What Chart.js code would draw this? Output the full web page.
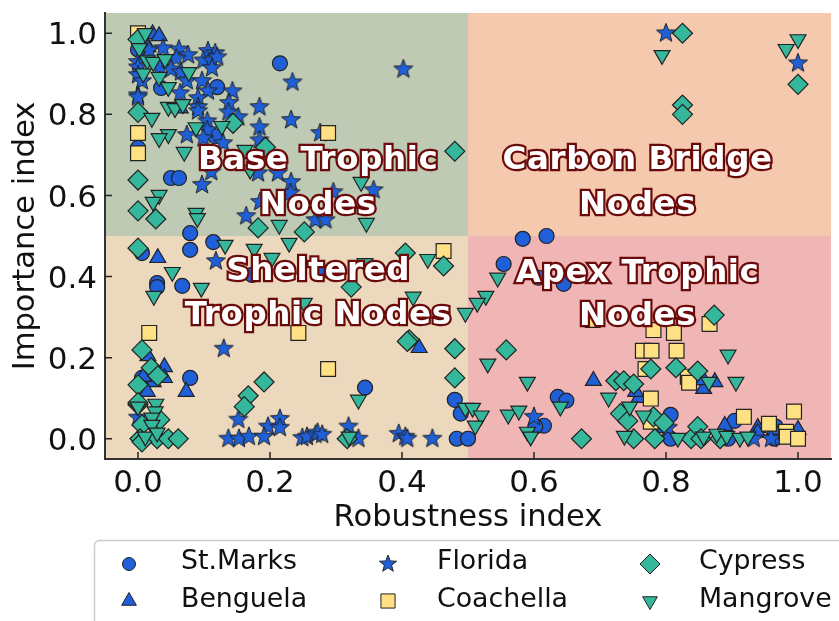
<!DOCTYPE html>
<html>
<head>
<meta charset="utf-8">
<title>Robustness and importance</title>
<script src="https://cdn.jsdelivr.net/npm/chart.js@4/dist/chart.umd.min.js"></script>
<style>
    html, body { margin: 0; padding: 0; background: #fff; overflow: hidden; }
    canvas { display: block; }
</style>
</head>
<body>
<canvas id="myChart" width="839" height="621"></canvas>
<script>
const xTicks = [0, 0.2, 0.4, 0.6, 0.8, 1];
const yTicks = [0, 0.2, 0.4, 0.6, 0.8, 1];

const stMarks = [[.215,.926],[.12,.867],[.035,.865],[0,.96],[.05,.643],[.062,.643],[0,.717],[.079,.507],[.117,.746],
    [.006,.458],[.079,.466],[.114,.485],[.029,.384],[.029,.374],[.067,.377],[.173,.404],[.079,.15],[.344,.126],[.006,.15],
    [.48,.096],[.489,.062],[.483,0],[.5,0],[.583,.493],[.619,.5],[.554,.431],[.607,.397],[.645,.382],[.636,.103],[.649,.094],
    [.615,.032],[.602,.03],[.807,.059],[.807,0],[.904,.044],[.894,0],[.964,0],[.966,.03]];

const benguela = [[.022,.998],[.032,.993],[.015,.966],[.064,.815],[.03,.446],[.015,.204],[.04,.177],[.04,.15],[.023,.14],
    [.014,.116],[.008,.153],[.073,.116],[.426,.224],[.759,.101],[.754,.116],[.857,.123],[.857,.145],[.874,.14],[.69,.143],
    [.889,.032],[.939,.027],[.939,.015],[1,.022],[.964,.022],[.797,.027]];

const florida = [[.062,.96],[.076,.946],[.106,.956],[.117,.951],[.099,.933],[.112,.933],[.12,.941],[.112,.914],[.038,.963],
    [.017,.958],[.058,.938],[0,.929],[0,.916],[.033,.916],[.05,.911],[.065,.904],[0,.897],[.006,.882],[.074,.882],[.097,.882],
    [.064,.852],[.106,.857],[.143,.857],[0,.847],[0,.842],[.091,.84],[.138,.828],[.091,.818],[.091,.808],[.137,.805],[.184,.818],
    [.152,.793],[.105,.783],[.232,.786],[.234,.879],[.402,.911],[.184,.768],[.105,.761],[.074,.749],[.099,.741],[.129,.729],
    [.184,.736],[.276,.754],[.111,.658],[.182,.655],[.212,.655],[.232,.633],[.097,.626],[.231,.606],[.296,.608],[.357,.613],
    [.185,.584],[.164,.549],[.269,.539],[.284,.539],[.118,.438],[.276,.416],[.13,.222],[.152,.047],[.137,0],[.153,0],[.168,.005],
    [.197,.03],[.215,.049],[.215,.027],[.191,.005],[.249,.002],[.256,.005],[.269,.01],[.272,.015],[.279,.01],[.319,.03],[.334,0],
    [.395,.012],[.405,.005],[.408,0],[.446,0],[0,.052],[.6,.054],[.933,0],[.959,0],[.803,.027],[.8,1],[1,.926]];

const coachella = [[0,1],[0,.754],[0,.704],[.288,.754],[.017,.261],[.243,.261],[.288,.172],[.463,.463],[.689,.293],[.781,.268],
    [.812,.261],[.866,.283],[.765,.217],[.778,.217],[.816,.217],[.769,.172],[.833,.153],[.835,.138],[.777,.099],[.777,.042],
    [.918,.054],[.956,.037],[.994,.067],[.982,.017],[.983,.005],[1,0]];

const cypress = [[0,.985],[0,.805],[.144,.778],[.48,.709],[0,.638],[0,.562],[.027,.542],[.193,.719],[.182,.52],[.252,.51],
    [0,.47],[.405,.458],[.463,.426],[.323,.374],[.411,.244],[.408,.24],[.48,.222],[.48,.15],[.006,.219],[.02,.175],[.03,.155],
    [0,.133],[.191,.14],[.167,.106],[.161,.079],[0,.084],[0,.089],[.006,.034],[.033,.047],[.003,0],[.029,0],[.046,0],[.061,0],
    [.006,-.008],[.317,0],[.558,.219],[.672,0],[.724,.143],[.736,.143],[.751,.135],[.777,.172],[.815,.175],[.848,.167],[.873,.305],
    [.731,.062],[.742,.044],[.781,.054],[.797,.039],[.783,0],[.751,0],[.838,0],[.848,.03],[.853,0],[.882,0],[.825,1],[.825,.823],
    [.825,.8],[1,.874]];

const mangrove = [[.011,1],[.002,.963],[.014,.933],[.023,.929],[.041,.936],[.008,.901],[.032,.892],[.077,.904],[.046,.867],
    [.046,.818],[.056,.815],[.068,.825],[.021,.791],[.088,.768],[.127,.771],[.046,.751],[.032,.741],[.07,.707],[.162,.712],[.17,.663],
    [.338,.633],[.032,.601],[.023,.584],[.088,.557],[.09,.544],[.214,.527],[.346,.532],[.132,.478],[.176,.468],[.229,.483],[.203,.446],
    [.344,.433],[.439,.443],[.052,.411],[.096,.372],[.024,.352],[.252,.335],[.417,.35],[.496,.31],[.545,.397],[.527,.352],[.514,.335],
    [.53,.185],[.59,.14],[.64,.079],[.334,.096],[.496,.076],[.507,.076],[.52,.057],[.511,.032],[.561,.059],[.577,.069],[.59,.017],
    [.595,.005],[.32,.005],[.713,.101],[.745,.079],[.766,.057],[.894,.207],[.906,.14],[.865,.14],[.737,.007],[.818,.002],[.857,.005],
    [.877,.012],[.892,.007],[.912,.002],[.924,.005],[.794,.946],[1,.985],[.982,.961],[0,.079],[.027,.086],[.026,.067],[.021,.052],
    [.021,.034],[.011,.005],[.029,.015]];

const azul = "#1f5fd8";
const verde = "#35b79b";
const amarelo = "#ffe082";
const contorno = "#222222";

function criarEstrela(raio) {
    const tela = document.createElement("canvas");
    const lado = Math.ceil(raio * 2 + 4);
    tela.width = lado;
    tela.height = lado;
    const ctx = tela.getContext("2d");
    ctx.beginPath();
    for (let i = 0; i < 10; i++) {
        const r = i % 2 ? raio * 0.42 : raio;
        const ang = -Math.PI / 2 + i * Math.PI / 5;
        ctx.lineTo(lado / 2 + r * Math.cos(ang), lado / 2 + r * Math.sin(ang));
    }
    ctx.closePath();
    ctx.fillStyle = azul;
    ctx.fill();
    ctx.lineWidth = 1;
    ctx.strokeStyle = contorno;
    ctx.lineJoin = "miter";
    ctx.stroke();
    return tela;
}

const series = [
    { label: "St.Marks", pontos: stMarks, estilo: "circle", cor: azul, raio: 7.5, raioLegenda: 6.5, rotacao: 0 },
    { label: "Benguela", pontos: benguela, estilo: "triangle", cor: azul, raio: 9.2, raioLegenda: 8.5, rotacao: 0 },
    { label: "Florida", pontos: florida, estilo: criarEstrela(10), cor: azul, raio: 10, raioLegenda: 8, rotacao: 0, estiloLegenda: criarEstrela(9) },
    { label: "Coachella", pontos: coachella, estilo: "rect", cor: amarelo, raio: 10.5, raioLegenda: 10, rotacao: 0 },
    { label: "Cypress", pontos: cypress, estilo: "rectRot", cor: verde, raio: 10, raioLegenda: 10, rotacao: 0 },
    { label: "Mangrove", pontos: mangrove, estilo: "triangle", cor: verde, raio: 9.2, raioLegenda: 8.5, rotacao: 180 }
];

const quadrantes = [
    { x0: -0.05, x1: 0.5, y0: 0.5, y1: 1.05, cor: "#bfcab4" },
    { x0: 0.5, x1: 1.05, y0: 0.5, y1: 1.05, cor: "#f5c9ae" },
    { x0: -0.05, x1: 0.5, y0: -0.05, y1: 0.5, cor: "#ebd8bd" },
    { x0: 0.5, x1: 1.05, y0: -0.05, y1: 0.5, cor: "#f0b6b6" }
];

const rotulos = [
    { texto: "Base Trophic", x: 0.273, y: 0.686 },
    { texto: "Nodes", x: 0.273, y: 0.576 },
    { texto: "Carbon Bridge", x: 0.757, y: 0.686 },
    { texto: "Nodes", x: 0.757, y: 0.576 },
    { texto: "Sheltered", x: 0.273, y: 0.413 },
    { texto: "Trophic Nodes", x: 0.273, y: 0.303 },
    { texto: "Apex Trophic", x: 0.757, y: 0.408 },
    { texto: "Nodes", x: 0.757, y: 0.302 }
];

const fundoPlugin = {
    id: "fundo",
    // o layout deixa a margem direita maior que o padding pedido
    afterLayout(chart) {
        const eixoX = chart.scales.x;
        eixoX.right = 831;
        eixoX.width = eixoX.right - eixoX.left;
        eixoX.configure();
        chart.chartArea.right = eixoX.right;
        chart.chartArea.width = eixoX.width;
    },
    beforeDraw(chart) {
        const { ctx, scales: { x, y } } = chart;
        ctx.save();
        quadrantes.forEach(q => {
            ctx.fillStyle = q.cor;
            ctx.fillRect(x.getPixelForValue(q.x0), y.getPixelForValue(q.y1),
                x.getPixelForValue(q.x1) - x.getPixelForValue(q.x0),
                y.getPixelForValue(q.y0) - y.getPixelForValue(q.y1));
        });
        ctx.restore();
    },
    beforeDatasetsDraw(chart) {
        const { ctx, scales: { x, y }, chartArea } = chart;
        ctx.save();
        ctx.strokeStyle = "#222";
        ctx.lineWidth = 1.5;
        ctx.beginPath();
        xTicks.forEach(v => {
            ctx.moveTo(x.getPixelForValue(v), chartArea.bottom);
            ctx.lineTo(x.getPixelForValue(v), chartArea.bottom - 7);
        });
        yTicks.forEach(v => {
            ctx.moveTo(chartArea.left, y.getPixelForValue(v));
            ctx.lineTo(chartArea.left + 7, y.getPixelForValue(v));
        });
        ctx.stroke();
        ctx.restore();
    }
};

const rotulosPlugin = {
    id: "rotulos",
    afterDatasetsDraw(chart) {
        const { ctx, scales: { x, y } } = chart;
        ctx.save();
        ctx.font = "bold 32.5px 'DejaVu Sans'";
        ctx.textAlign = "center";
        ctx.textBaseline = "middle";
        ctx.lineJoin = "miter";
        ctx.letterSpacing = "0.6px";
        rotulos.forEach(r => {
            ctx.lineWidth = 4.5;
            ctx.strokeStyle = "#6b0a0a";
            ctx.strokeText(r.texto, x.getPixelForValue(r.x), y.getPixelForValue(r.y));
            ctx.fillStyle = "#ffffff";
            ctx.fillText(r.texto, x.getPixelForValue(r.x), y.getPixelForValue(r.y));
        });
        ctx.restore();
    }
};

const legendaPlugin = {
    id: "legenda",
    afterDraw(chart) {
        const { ctx } = chart;
        const colunas = [{ marca: 129, texto: 181 }, { marca: 388, texto: 437 }, { marca: 650, texto: 699 }];
        const linhas = [{ marca: 564, texto: 562 }, { marca: 601, texto: 600 }];
        ctx.save();
        ctx.beginPath();
        ctx.roundRect(94.5, 540.5, 800, 120, 5);
        ctx.fillStyle = "#ffffff";
        ctx.fill();
        ctx.strokeStyle = "#cccccc";
        ctx.lineWidth = 1.5;
        ctx.stroke();
        series.forEach((s, i) => {
            const col = colunas[Math.floor(i / 2)];
            const lin = linhas[i % 2];
            ctx.fillStyle = s.cor;
            ctx.strokeStyle = contorno;
            ctx.lineWidth = 1;
            Chart.helpers.drawPoint(ctx, {
                pointStyle: s.estiloLegenda || s.estilo,
                radius: s.raioLegenda,
                rotation: s.rotacao,
                borderWidth: 1
            }, col.marca, lin.marca);
            ctx.fillStyle = "#111111";
            ctx.font = "26.8px 'DejaVu Sans'";
            ctx.textBaseline = "middle";
            ctx.fillText(s.label, col.texto, lin.texto);
        });
        ctx.restore();
    }
};

function criarDataset(s, indice) {
    return {
        label: s.label,
        data: s.pontos.map(p => ({ x: p[0], y: p[1] })),
        order: series.length - indice,
        showLine: false,
        pointStyle: s.estilo,
        pointRadius: s.raio,
        pointRotation: s.rotacao,
        pointBackgroundColor: s.cor,
        pointBorderColor: contorno,
        pointBorderWidth: 1.2
    };
}

function criarEixo(titulo, marcas, paddingTitulo, ajustar, deslocamento, paddingMarcas) {
    return {
        type: "linear",
        min: -0.05,
        max: 1.05,
        afterBuildTicks: eixo => { eixo.ticks = marcas.map(value => ({ value })); },
        afterFit: eixo => {
            eixo.paddingTop = 0;
            eixo.paddingBottom = 0;
            eixo.paddingLeft = 0;
            eixo.paddingRight = 0;
            ajustar(eixo);
        },
        ticks: {
            color: "#111111",
            padding: paddingMarcas,
            labelOffset: deslocamento,
            maxRotation: 0,
            font: { family: "'DejaVu Sans'", size: 31 },
            callback: v => v.toFixed(1)
        },
        grid: { display: false, drawTicks: false },
        border: { display: true, color: "#333333", width: 2 },
        title: {
            display: true,
            text: titulo,
            color: "#111111",
            padding: paddingTitulo,
            font: { family: "'DejaVu Sans'", size: 30.6 }
        }
    };
}

new Chart(document.querySelector("#myChart"), {
    type: "scatter",
    data: { datasets: series.map(criarDataset) },
    options: {
        responsive: false,
        animation: false,
        layout: { padding: { top: 13, right: 8, bottom: 0, left: 0 } },
        plugins: { legend: { display: false }, tooltip: { enabled: false } },
        scales: {
            x: criarEixo("Robustness index", xTicks, { top: 0, bottom: 85 }, eixo => { eixo.height = 162; }, 0, 6),
            y: criarEixo("Importance index", yTicks, { top: 8, bottom: 0 }, eixo => { eixo.width = 105; }, 3, 8)
        }
    },
    plugins: [fundoPlugin, rotulosPlugin, legendaPlugin]
});
</script>
</body>
</html>
